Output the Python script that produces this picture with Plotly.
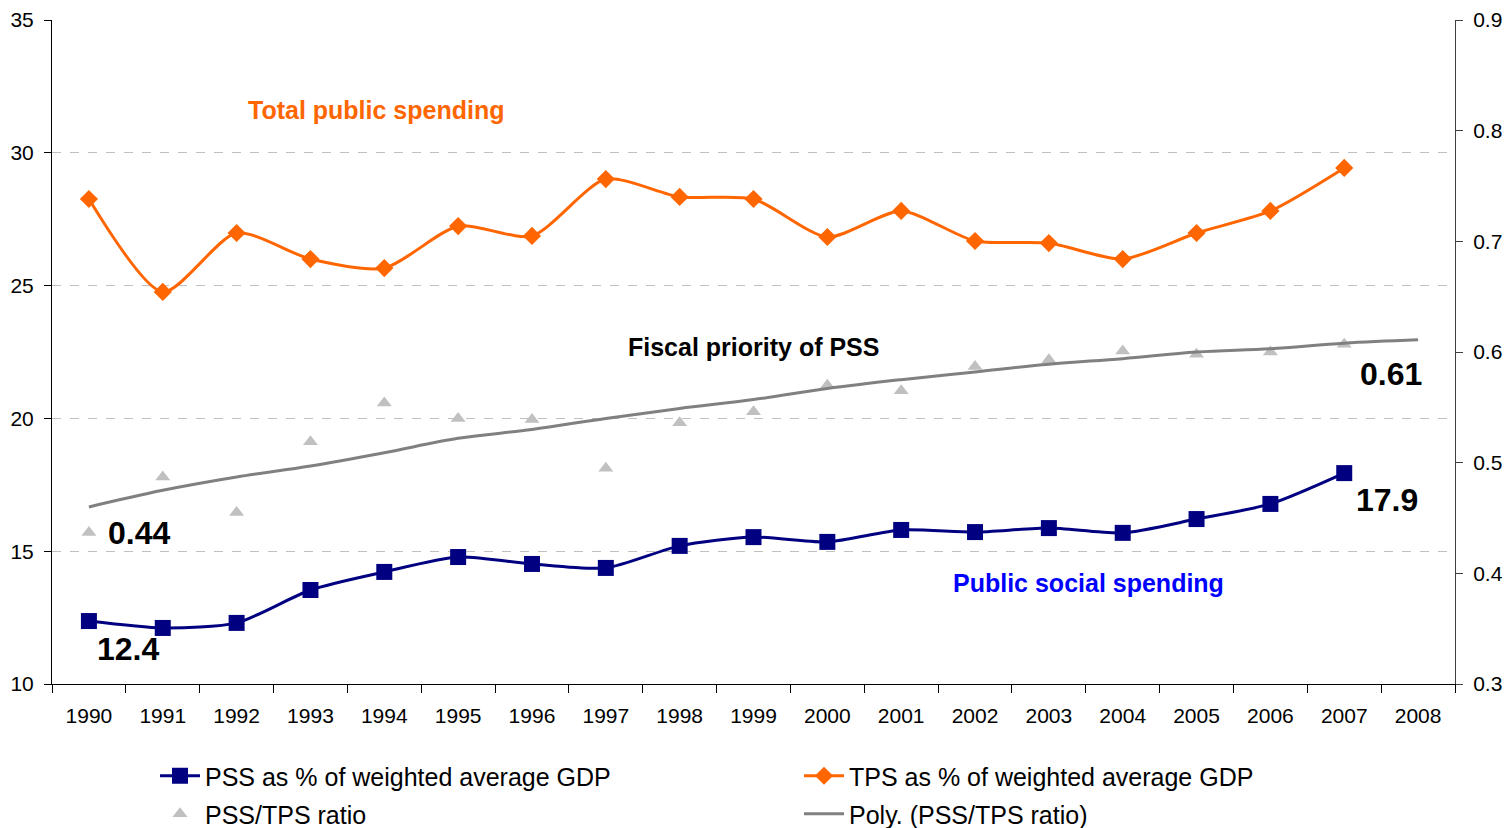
import plotly.graph_objects as go

years = [str(y) for y in range(1990, 2009)]
years_data = years[:18]

pss = [12.37, 12.11, 12.30, 13.54, 14.22, 14.78, 14.52, 14.37, 15.20, 15.53,
       15.35, 15.80, 15.72, 15.87, 15.69, 16.21, 16.78, 17.94]
tps = [28.26, 24.76, 26.98, 26.00, 25.66, 27.24, 26.87, 29.01, 28.34, 28.26,
       26.83, 27.81, 26.68, 26.60, 26.00, 26.98, 27.81, 29.43]
ratio = [0.437, 0.487, 0.455, 0.519, 0.554, 0.540, 0.539, 0.495, 0.536, 0.546,
         0.570, 0.565, 0.587, 0.593, 0.601, 0.598, 0.600, 0.607]
trend = [0.460, 0.475, 0.487, 0.497, 0.509, 0.522, 0.530, 0.540, 0.549, 0.557,
         0.567, 0.575, 0.582, 0.589, 0.594, 0.600, 0.603, 0.608, 0.611]

FONT = "Liberation Sans, Arial, sans-serif"
L, R, T, B = 52, 51, 20, 144
W, H = 1506, 828
PW, PH = W - L - R, H - T - B


def px(x):
    return (x - L) / PW


def py(y):
    return (H - B - y) / PH


fig = go.Figure()
fig.add_trace(go.Scatter(
    x=years_data, y=pss, name="PSS as % of weighted average GDP", legend="legend",
    mode="lines+markers", line=dict(color="#000080", width=3, shape="spline", smoothing=0.7),
    marker=dict(symbol="square", size=16, color="#000080")))
fig.add_trace(go.Scatter(
    x=years_data, y=tps, name="TPS as % of weighted average GDP", legend="legend",
    mode="lines+markers", line=dict(color="#FF6600", width=3, shape="spline", smoothing=0.7),
    marker=dict(symbol="diamond", size=14, color="#FF6600")))
fig.add_trace(go.Scatter(
    x=years_data, y=ratio, name="PSS/TPS ratio", yaxis="y2", legend="legend2",
    mode="markers", marker=dict(symbol="triangle-up", size=13, color="#C0C0C0")))
fig.add_trace(go.Scatter(
    x=years, y=trend, name="Poly. (PSS/TPS ratio)", yaxis="y2", legend="legend2",
    mode="lines", line=dict(color="#808080", width=3, shape="spline")))

annots = [
    ("Total public spending", 376, 110, "#FF6600", 25),
    ("Fiscal priority of PSS", 753, 347, "#000000", 25),
    ("Public social spending", 1088, 583, "#0000FF", 25),
    ("0.44", 139, 533, "#000000", 32),
    ("12.4", 128, 649, "#000000", 32),
    ("17.9", 1387, 500, "#000000", 32),
    ("0.61", 1391, 374, "#000000", 32),
]
for text, x, y, color, size in annots:
    fig.add_annotation(text="<b>%s</b>" % text, x=px(x), y=py(y), xref="paper", yref="paper",
                       showarrow=False, xanchor="center", yanchor="middle",
                       font=dict(family=FONT, size=size, color=color))

legend_common = dict(orientation="h", xanchor="left", yanchor="top",
                     entrywidth=589, entrywidthmode="pixels",
                     font=dict(family=FONT, size=25, color="#000000"),
                     bgcolor="rgba(0,0,0,0)", itemwidth=40)

fig.update_layout(
    width=W, height=H,
    margin=dict(l=L, r=R, t=T, b=B, autoexpand=False),
    paper_bgcolor="white", plot_bgcolor="white",
    font=dict(family=FONT, size=21, color="#000000"),
    showlegend=True,
    legend=dict(x=px(155), y=py(753), **legend_common),
    legend2=dict(x=px(155), y=py(791), **legend_common),
    xaxis=dict(type="category", categoryorder="array", categoryarray=years,
               range=[-0.5, 18.5], tickson="boundaries", ticks="outside", ticklen=8,
               tickcolor="#000000", showline=True, linecolor="#000000", linewidth=1,
               showgrid=False, tickfont=dict(size=21), ticklabelstandoff=13,
               automargin=False, fixedrange=True),
    yaxis=dict(range=[10, 35], dtick=5, tick0=10, ticks="outside", ticklen=7,
               tickcolor="#000000", showline=True, linecolor="#000000", linewidth=1,
               showgrid=True, gridcolor="#C0C0C0", griddash="dash", gridwidth=1,
               zeroline=False, tickfont=dict(size=21), ticklabelstandoff=6,
               automargin=False),
    yaxis2=dict(range=[0.3, 0.9], dtick=0.1, tick0=0.3, tickformat=".1f",
                overlaying="y", side="right", ticks="outside", ticklen=7,
                tickcolor="#404040", showline=True, linecolor="#404040", linewidth=1,
                showgrid=False, zeroline=False, tickfont=dict(size=21), ticklabelstandoff=6,
                automargin=False),
)

fig.write_html("out.html", config={"displayModeBar": False},
               post_script="document.body.style.margin='0px';document.body.style.overflow='hidden';")
